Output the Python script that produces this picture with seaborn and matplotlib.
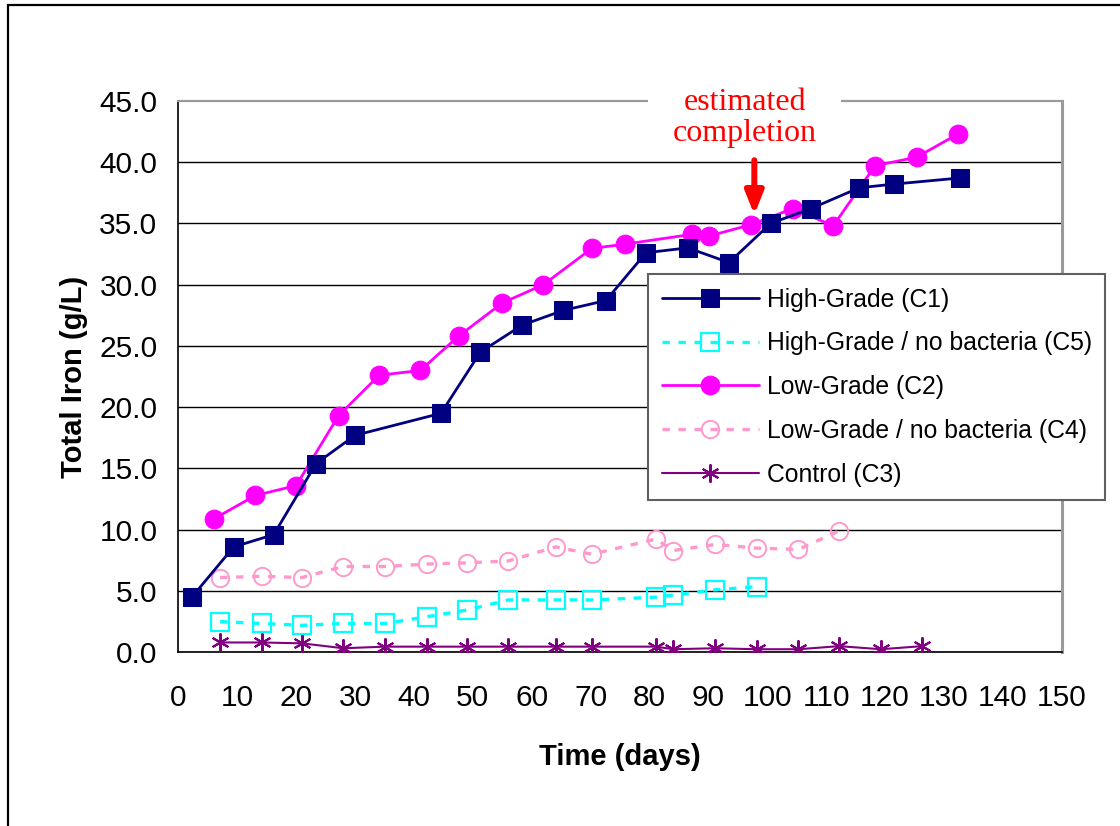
import matplotlib
matplotlib.use("Agg")
import matplotlib.pyplot as plt
from matplotlib.patches import Rectangle
import numpy as np
import pandas as pd
import seaborn as sns

# ---- data ---------------------------------------------------------------
c1_days = [2.3, 9.4, 16.2, 23.4, 30.0, 44.6, 51.3, 58.4, 65.4, 72.6, 79.4,
           86.5, 93.5, 100.6, 107.4, 115.6, 121.5, 132.7]
c1_iron = [4.5, 8.6, 9.6, 15.4, 17.7, 19.5, 24.5, 26.7, 27.9, 28.7, 32.6,
           33.0, 31.8, 35.0, 36.2, 37.9, 38.2, 38.7]

c5_days = [7.1, 14.2, 21.0, 28.0, 35.1, 42.2, 49.0, 56.0, 64.1, 70.2, 81.1,
           84.0, 91.2, 98.2]
c5_iron = [2.5, 2.35, 2.2, 2.35, 2.35, 2.9, 3.45, 4.27, 4.27, 4.27, 4.5,
           4.67, 5.1, 5.35]

c2_days = [6.1, 13.1, 20.0, 27.2, 34.1, 41.1, 47.6, 55.0, 62.0, 70.2, 75.8,
           87.2, 90.1, 97.3, 104.3, 111.2, 118.3, 125.4, 132.4]
c2_iron = [10.9, 12.8, 13.6, 19.3, 22.6, 23.0, 25.8, 28.5, 30.0, 32.95, 33.3,
           34.1, 33.96, 34.9, 36.2, 34.8, 39.7, 40.4, 42.3]

c4_days = [7.1, 14.2, 21.0, 28.0, 35.1, 42.2, 49.0, 56.0, 64.1, 70.2, 81.1,
           84.0, 91.2, 98.2, 105.3, 112.2]
c4_iron = [6.1, 6.2, 6.1, 7.0, 7.0, 7.2, 7.3, 7.45, 8.6, 8.0, 9.24,
           8.3, 8.8, 8.5, 8.4, 9.9]

c3_days = [7.1, 14.2, 21.0, 28.0, 35.1, 42.2, 49.0, 56.0, 64.1, 70.2, 81.1,
           84.0, 91.2, 98.2, 105.3, 112.2, 119.3, 126.3]
c3_iron = [0.8, 0.8, 0.73, 0.33, 0.46, 0.46, 0.46, 0.46, 0.46, 0.46, 0.46,
           0.25, 0.33, 0.25, 0.25, 0.5, 0.25, 0.5]

series_names = ["High-Grade (C1)", "High-Grade / no bacteria (C5)",
                "Low-Grade (C2)", "Low-Grade / no bacteria (C4)", "Control (C3)"]

x_ticks = list(range(0, 151, 10))
y_ticks = [0.0, 5.0, 10.0, 15.0, 20.0, 25.0, 30.0, 35.0, 40.0, 45.0]

completion_day = 97.8
completion_iron = 35.7

# ---- style --------------------------------------------------------------
sns.set_style("white")
plt.rcParams["font.family"] = ["Liberation Sans", "DejaVu Sans"]
plt.rcParams["text.color"] = "black"
plt.rcParams["axes.labelcolor"] = "black"
plt.rcParams["xtick.color"] = "black"
plt.rcParams["ytick.color"] = "black"

fig = plt.figure(figsize=(11.2, 8.26), dpi=100)
ax = fig.add_axes([0.1592, 0.2103, 0.7888, 0.6677])

dash = (0, (2.2, 2.6))
styles = {
    "High-Grade (C1)": dict(color="#000080", lw=2.0, marker="s", ms=13,
                            mfc="#000080", mec="#000080", ls="-", zorder=6),
    "High-Grade / no bacteria (C5)": dict(color="#00FFFF", lw=2.4, marker="s", ms=13,
                                          mfc="none", mec="#00FFFF", mew=1.6,
                                          ls=dash, zorder=4),
    "Low-Grade (C2)": dict(color="#FF00FF", lw=2.0, marker="o", ms=13.5,
                           mfc="#FF00FF", mec="#FF00FF", ls="-", zorder=5),
    "Low-Grade / no bacteria (C4)": dict(color="#FF99CC", lw=2.4, marker="o", ms=12.5,
                                         mfc="none", mec="#FF99CC", mew=1.4,
                                         ls=dash, zorder=3),
    "Control (C3)": dict(color="#800080", lw=1.5, marker=(6, 2, 0), ms=13,
                         mec="#800080", mew=1.5, ls="-", zorder=3),
}

data = {
    "High-Grade (C1)": (c1_days, c1_iron),
    "High-Grade / no bacteria (C5)": (c5_days, c5_iron),
    "Low-Grade (C2)": (c2_days, c2_iron),
    "Low-Grade / no bacteria (C4)": (c4_days, c4_iron),
    "Control (C3)": (c3_days, c3_iron),
}

for name in series_names:
    days, iron = data[name]
    df = pd.DataFrame({"day": days, "iron": iron})
    st = dict(styles[name])
    sns.lineplot(data=df, x="day", y="iron", ax=ax, estimator=None, sort=False,
                 label=name, color=st.pop("color"), linewidth=st.pop("lw"),
                 linestyle=st.pop("ls"), **st)

# ---- axes ---------------------------------------------------------------
ax.set_xlim(0, 150)
ax.set_ylim(0, 45)
ax.set_xticks(x_ticks)
ax.set_yticks(y_ticks)
ax.set_yticklabels([f"{v:.1f}" for v in y_ticks])
ax.tick_params(axis="both", labelsize=21.5, colors="black", direction="out",
               length=7, width=1.2)
ax.tick_params(axis="y", pad=8)
ax.tick_params(axis="x", pad=16)

ax.grid(axis="y", color="black", linewidth=1.0)
ax.grid(axis="x", visible=False)
ax.yaxis.get_gridlines()[-1].set_visible(False)
ax.set_axisbelow(True)

for side in ("left", "bottom"):
    ax.spines[side].set_color("black")
    ax.spines[side].set_linewidth(1.2)
ax.spines["top"].set_color("#9a9a9a")
ax.spines["top"].set_linewidth(1.6)
ax.spines["right"].set_color("#9a9a9a")
ax.spines["right"].set_linewidth(2.2)

ax.set_xlabel("Time (days)", fontsize=21, fontweight="bold", labelpad=22,
              color="black")
ax.set_ylabel("Total Iron (g/L)", fontsize=21, fontweight="bold", labelpad=8,
              color="black")

# ---- annotation ---------------------------------------------------------
ax.add_patch(Rectangle((0.532, 0.985), 0.218, 0.04, transform=ax.transAxes,
                       facecolor="white", edgecolor="none", clip_on=False, zorder=7))
ax.text(96.2, 43.6, "estimated\ncompletion", ha="center", va="center",
        color="red", fontsize=23, family=["Liberation Serif", "DejaVu Serif"],
        linespacing=1.1, zorder=8, clip_on=False)
ax.annotate("", xy=(completion_day, completion_iron), xytext=(completion_day, 40.15),
            arrowprops=dict(arrowstyle="-|>,head_length=0.75,head_width=0.3",
                            color="red", lw=4.3, mutation_scale=18,
                            shrinkA=0, shrinkB=0), zorder=8)

# ---- legend -------------------------------------------------------------
leg = ax.legend(loc="upper left", bbox_to_anchor=(0.5786, 0.6683),
                bbox_transform=fig.transFigure, fontsize=17.8, frameon=True,
                fancybox=False, framealpha=1, edgecolor="#606060",
                borderpad=0.55, labelspacing=0.8, handlelength=3.95,
                handletextpad=0.3, borderaxespad=0)
leg.get_frame().set_linewidth(1.5)
leg.set_zorder(10)
for t in leg.get_texts():
    t.set_color("black")

# outer chart border
fig.patches.append(Rectangle((8 / 1120, -0.2), 1.5, 1.2 - 5 / 826,
                             transform=fig.transFigure, fill=False,
                             edgecolor="black", linewidth=1.6))

fig.savefig("out.png", dpi=100)
